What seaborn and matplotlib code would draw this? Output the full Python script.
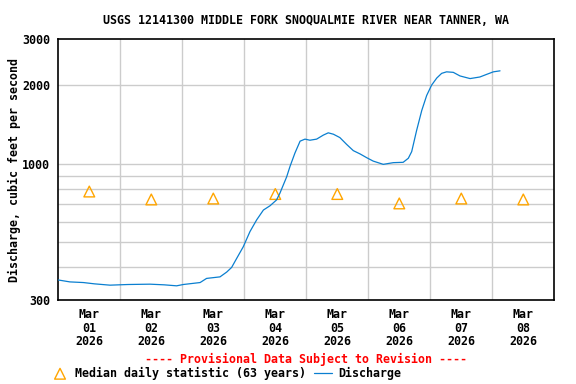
import pandas as pd
import numpy as np
import matplotlib
matplotlib.use("Agg")
import matplotlib.pyplot as plt
import seaborn as sns

# Discharge readings (hours after 2026-03-01 00:00, cfs)
jam = [0, 4.5, 9.7, 14, 20.0, 27, 35.5, 41, 45.8, 48.4, 54.9, 57.4, 62.6, 65.2,
       67.1, 69.1, 71.6, 74.2, 76.8, 79.4, 82.0, 84.5, 85.8, 88.4, 89.7, 91.6,
       93.6, 95.5, 97.4, 100.0, 102.6, 104.5, 106.5, 109.0, 111.6, 114.2, 116.8,
       119.4, 121.9, 125.8, 129.7, 133.5, 135.5, 136.8, 138.7, 140.7, 142.6,
       144.5, 146.5, 148.4, 150.3, 152.9, 155.5, 159.4, 163.2, 165.8, 168.4, 171.0]
debit = [358, 352, 350, 346, 342, 344, 345, 343, 340, 344, 350, 363, 368, 384,
         400, 434, 480, 549, 609, 664, 690, 726, 771, 890, 976, 1098,
         1220, 1242, 1230, 1242, 1287, 1313, 1297, 1259, 1186, 1122, 1090,
         1054, 1023, 994, 1009, 1012, 1049, 1112, 1340, 1600, 1826,
         2000, 2130, 2220, 2250, 2240, 2170, 2120, 2150, 2200, 2250, 2270]

# Median daily statistic (63 years), one per day at noon
hari = ["2026-03-01", "2026-03-02", "2026-03-03", "2026-03-04",
        "2026-03-05", "2026-03-06", "2026-03-07", "2026-03-08"]
median = [782, 729, 735, 765, 765, 704, 735, 729]

awal = pd.Timestamp("2026-03-01")
df = pd.DataFrame({"waktu": awal + pd.to_timedelta(jam, unit="h"), "debit": debit})
dm = pd.DataFrame({"waktu": pd.to_datetime(hari) + pd.Timedelta(hours=12), "median": median})

sns.set_style("white")
plt.rcParams["font.family"] = ["DejaVu Sans Mono"]
plt.rcParams["font.weight"] = "bold"
for k in ["text.color", "axes.labelcolor", "xtick.color", "ytick.color"]:
    plt.rcParams[k] = "black"
fs = 8.4

fig = plt.figure(figsize=(5.76, 3.84), dpi=100)
ax = fig.add_axes([0.1012, 0.21875, 0.8611, 0.679])

sns.scatterplot(x="waktu", y="median", data=dm, ax=ax, marker="^", s=60,
                facecolors="none", edgecolor="#FFA500", linewidth=1,
                label="Median daily statistic (63 years)", zorder=3)
sns.lineplot(x="waktu", y="debit", data=df, ax=ax, color="#0a7fd0",
             linewidth=0.9, label="Discharge", zorder=4)

ax.set_yscale("log")
ax.set_ylim(300, 3000)
ax.set_xlim(awal, awal + pd.Timedelta(days=8))

ax.yaxis.set_major_locator(matplotlib.ticker.FixedLocator([300, 1000, 2000, 3000]))
ax.yaxis.set_major_formatter(matplotlib.ticker.FixedFormatter(["300", "1000", "2000", "3000"]))
ax.yaxis.set_minor_locator(matplotlib.ticker.NullLocator())
for v in [400, 500, 600, 700, 800, 900, 1000, 2000]:
    ax.axhline(v, color="#cccccc", linewidth=1, zorder=1)
for d in range(1, 8):
    ax.axvline(awal + pd.Timedelta(days=d), color="#cccccc", linewidth=1, zorder=1)

tengah = pd.to_datetime(hari) + pd.Timedelta(hours=12)
ax.set_xticks(tengah)
ax.set_xticklabels([t.strftime("Mar\n%d\n%Y") for t in pd.to_datetime(hari)],
                   fontsize=fs, fontweight="bold", linespacing=1.02)
ax.xaxis.set_minor_locator(matplotlib.ticker.NullLocator())
for lab in ax.get_yticklabels():
    lab.set_fontsize(fs)
    lab.set_fontweight("bold")
ax.tick_params(axis="both", length=0)
ax.tick_params(axis="x", pad=6)
ax.tick_params(axis="y", pad=6)

ax.set_xlabel("")
ax.set_ylabel("Discharge, cubic feet per second", fontsize=fs, fontweight="bold", labelpad=1)
for s in ax.spines.values():
    s.set_color("black")
    s.set_linewidth(1.2)

fig.text(0.531, 0.946, "USGS 12141300 MIDDLE FORK SNOQUALMIE RIVER NEAR TANNER, WA",
         ha="center", va="center", fontsize=fs, fontweight="bold")
fig.text(0.531, 0.065, "---- Provisional Data Subject to Revision ----",
         ha="center", va="center", fontsize=fs, fontweight="bold", color="red")

ax.get_legend().remove()
h, l = ax.get_legend_handles_labels()
fig.legend(h, l, loc="center left", bbox_to_anchor=(0.0885, 0.028), ncol=2,
           frameon=False, borderpad=0, borderaxespad=0, handlelength=1.55,
           handletextpad=0.5, columnspacing=0.7, prop={"size": fs, "weight": "bold"})

plt.savefig("out.png", dpi=100)
